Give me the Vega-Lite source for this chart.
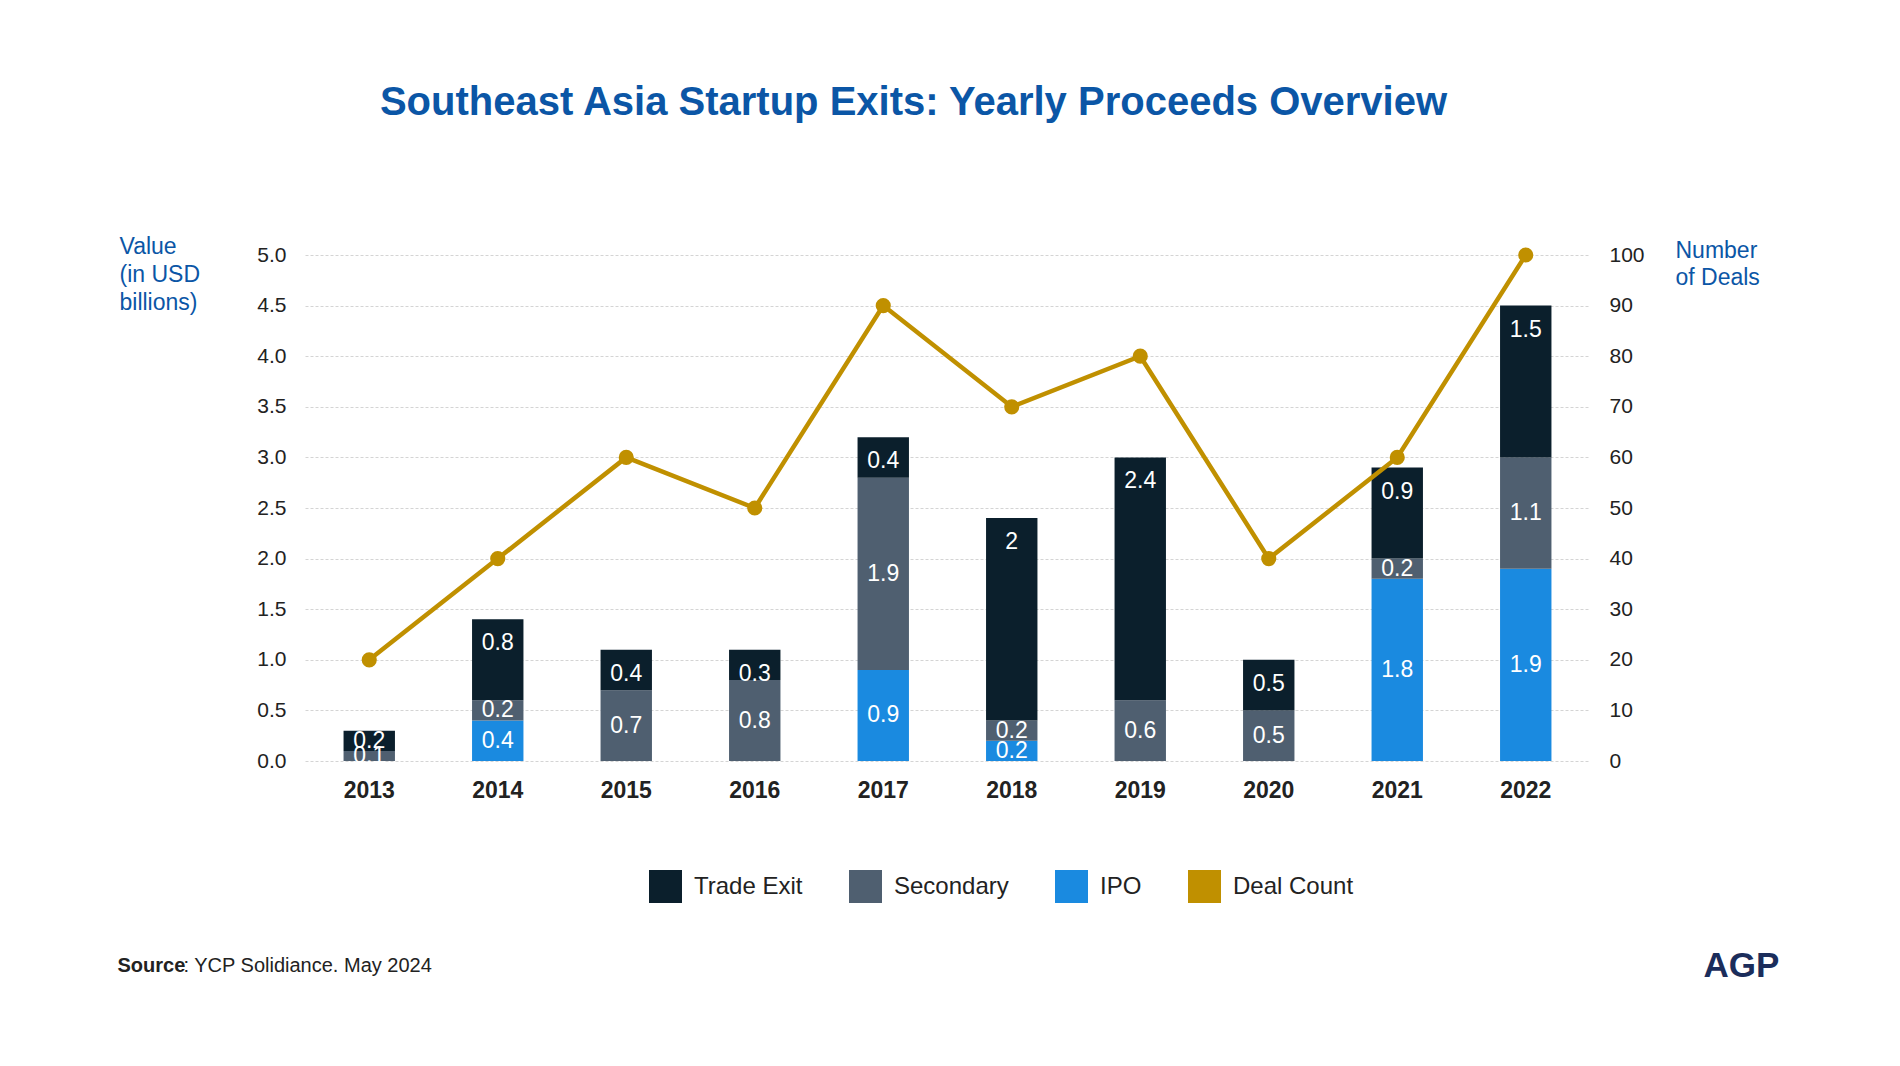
{
  "$schema": "https://vega.github.io/schema/vega-lite/v6.json",
  "autosize": {"type": "none"},
  "width": 1285,
  "height": 506,
  "padding": {"left": 305, "top": 255, "right": 310, "bottom": 305},
  "background": "white",
  "title": {
    "text": "Southeast Asia Startup Exits: Yearly Proceeds Overview",
    "anchor": "middle",
    "frame": "group",
    "dx": -34,
    "offset": 80,
    "baseline": "alphabetic",
    "font": "Liberation Sans",
    "fontSize": 40,
    "fontWeight": "bold",
    "color": "#0b56a6"
  },
  "datasets": {
    "exits": [
      {"year": "2013", "type": "Secondary", "value": 0.1},
      {"year": "2013", "type": "Trade Exit", "value": 0.2},
      {"year": "2014", "type": "IPO", "value": 0.4},
      {"year": "2014", "type": "Secondary", "value": 0.2},
      {"year": "2014", "type": "Trade Exit", "value": 0.8},
      {"year": "2015", "type": "Secondary", "value": 0.7},
      {"year": "2015", "type": "Trade Exit", "value": 0.4},
      {"year": "2016", "type": "Secondary", "value": 0.8},
      {"year": "2016", "type": "Trade Exit", "value": 0.3},
      {"year": "2017", "type": "IPO", "value": 0.9},
      {"year": "2017", "type": "Secondary", "value": 1.9},
      {"year": "2017", "type": "Trade Exit", "value": 0.4},
      {"year": "2018", "type": "IPO", "value": 0.2},
      {"year": "2018", "type": "Secondary", "value": 0.2},
      {"year": "2018", "type": "Trade Exit", "value": 2},
      {"year": "2019", "type": "Secondary", "value": 0.6},
      {"year": "2019", "type": "Trade Exit", "value": 2.4},
      {"year": "2020", "type": "Secondary", "value": 0.5},
      {"year": "2020", "type": "Trade Exit", "value": 0.5},
      {"year": "2021", "type": "IPO", "value": 1.8},
      {"year": "2021", "type": "Secondary", "value": 0.2},
      {"year": "2021", "type": "Trade Exit", "value": 0.9},
      {"year": "2022", "type": "IPO", "value": 1.9},
      {"year": "2022", "type": "Secondary", "value": 1.1},
      {"year": "2022", "type": "Trade Exit", "value": 1.5}
    ],
    "deals": [
      {"year": "2013", "count": 20},
      {"year": "2014", "count": 40},
      {"year": "2015", "count": 60},
      {"year": "2016", "count": 50},
      {"year": "2017", "count": 90},
      {"year": "2018", "count": 70},
      {"year": "2019", "count": 80},
      {"year": "2020", "count": 40},
      {"year": "2021", "count": 60},
      {"year": "2022", "count": 100}
    ]
  },
  "encoding": {
    "x": {
      "field": "year",
      "type": "ordinal",
      "scale": {"paddingInner": 0.6, "paddingOuter": 0.3},
      "axis": {
        "title": "Source",
        "titleFont": "Liberation Sans",
        "titleFontSize": 20,
        "titleFontWeight": "bold",
        "titleColor": "#222222",
        "titleAnchor": "start",
        "titleAlign": "left",
        "titleBaseline": "middle",
        "titleX": -188,
        "titleY": 204,
        "labelAngle": 0,
        "labelFont": "Liberation Sans",
        "labelFontSize": 23,
        "labelFontWeight": "bold",
        "labelColor": "#222222",
        "labelPadding": 18,
        "ticks": false,
        "domain": false,
        "grid": false
      }
    }
  },
  "layer": [
    {
      "data": {"name": "exits"},
      "transform": [
        {"stack": "value", "groupby": ["year"], "as": ["v0", "v1"], "sort": [{"field": "type", "order": "ascending"}]}
      ],
      "mark": {"type": "bar"},
      "encoding": {
        "y": {
          "field": "v0",
          "type": "quantitative",
          "scale": {"domain": [0, 5]},
          "axis": {
            "orient": "left",
            "values": [0, 0.5, 1, 1.5, 2, 2.5, 3, 3.5, 4, 4.5, 5],
            "format": ".1f",
            "title": ["Value", "(in USD", "billions)"],
            "titleAngle": 0,
            "titleAlign": "left",
            "titleBaseline": "alphabetic",
            "titleX": -186,
            "titleY": -2,
            "titleLineHeight": 28,
            "titleFont": "Liberation Sans",
            "titleFontSize": 23,
            "titleFontWeight": "normal",
            "titleColor": "#0b56a6",
            "labelFont": "Liberation Sans",
            "labelFontSize": 21,
            "labelColor": "#222222",
            "labelPadding": 19,
            "ticks": false,
            "domain": false,
            "grid": true,
            "gridColor": "#d4d4d4",
            "gridDash": [3, 2],
            "gridWidth": 1
          }
        },
        "y2": {"field": "v1"},
        "color": {
          "field": "type",
          "type": "nominal",
          "scale": {
            "domain": ["Trade Exit", "Secondary", "IPO", "Deal Count"],
            "range": ["#0b1f2c", "#4f5f70", "#1a8ae0", "#c09000"]
          },
          "legend": {
            "title": null,
            "orient": "none",
            "legendX": 344,
            "legendY": 615,
            "direction": "horizontal",
            "symbolType": "square",
            "symbolSize": 1089,
            "symbolStrokeWidth": 0,
            "symbolOpacity": 1,
            "labelFont": "Liberation Sans",
            "labelFontSize": 24,
            "labelColor": "#222222",
            "labelOffset": 12,
            "columnPadding": 46
          }
        }
      }
    },
    {
      "data": {"name": "exits"},
      "transform": [
        {"stack": "value", "groupby": ["year"], "as": ["v0", "v1"], "sort": [{"field": "type", "order": "ascending"}]},
        {"filter": "datum.type !== 'Trade Exit' || datum.value < 0.25"},
        {"calculate": "(datum.v0 + datum.v1) / 2", "as": "mid"}
      ],
      "mark": {"type": "text", "font": "Liberation Sans", "fontSize": 23, "color": "white", "baseline": "middle", "align": "center"},
      "encoding": {
        "y": {
          "field": "mid",
          "type": "quantitative",
          "scale": {"domain": [0, 5]},
          "axis": {
            "orient": "left",
            "labels": false,
            "ticks": false,
            "domain": false,
            "grid": false,
            "title": ": YCP Solidiance. May 2024",
            "titleAngle": 0,
            "titleAlign": "left",
            "titleBaseline": "middle",
            "titleX": -122,
            "titleY": 710,
            "titleFont": "Liberation Sans",
            "titleFontSize": 20,
            "titleFontWeight": "normal",
            "titleColor": "#222222"
          }
        },
        "text": {"field": "value", "type": "quantitative"}
      }
    },
    {
      "data": {"name": "exits"},
      "transform": [
        {"stack": "value", "groupby": ["year"], "as": ["v0", "v1"], "sort": [{"field": "type", "order": "ascending"}]},
        {"filter": "datum.type === 'Trade Exit' && datum.value >= 0.25"}
      ],
      "mark": {"type": "text", "font": "Liberation Sans", "fontSize": 23, "color": "white", "baseline": "middle", "align": "center", "dy": 24},
      "encoding": {
        "y": {
          "field": "v1",
          "type": "quantitative",
          "scale": {"domain": [0, 5]},
          "axis": null
        },
        "text": {"field": "value", "type": "quantitative"}
      }
    },
    {
      "data": {"name": "deals"},
      "mark": {"type": "line", "strokeWidth": 4.5},
      "encoding": {
        "y": {
          "field": "count",
          "type": "quantitative",
          "scale": {"domain": [0, 100]},
          "axis": {
            "orient": "right",
            "values": [0, 10, 20, 30, 40, 50, 60, 70, 80, 90, 100],
            "title": ["Number", "of Deals"],
            "titleAngle": 0,
            "titleAlign": "left",
            "titleBaseline": "alphabetic",
            "titleX": 85,
            "titleY": 2,
            "titleLineHeight": 27,
            "titleFont": "Liberation Sans",
            "titleFontSize": 23,
            "titleFontWeight": "normal",
            "titleColor": "#0b56a6",
            "labelFont": "Liberation Sans",
            "labelFontSize": 21,
            "labelColor": "#222222",
            "labelPadding": 19,
            "ticks": false,
            "domain": false,
            "grid": false
          }
        },
        "color": {"datum": "Deal Count", "legend": null}
      }
    },
    {
      "data": {"name": "deals"},
      "mark": {"type": "circle", "size": 230, "opacity": 1},
      "encoding": {
        "y": {
          "field": "count",
          "type": "quantitative",
          "scale": {"domain": [0, 100]},
          "axis": {
            "orient": "right",
            "labels": false,
            "ticks": false,
            "domain": false,
            "grid": false,
            "title": "AGP",
            "titleAngle": 0,
            "titleAlign": "left",
            "titleBaseline": "middle",
            "titleX": 113,
            "titleY": 710,
            "titleFont": "Liberation Sans",
            "titleFontSize": 35,
            "titleFontWeight": "bold",
            "titleColor": "#1b2d5b"
          }
        },
        "color": {"datum": "Deal Count", "legend": null}
      }
    }
  ],
  "resolve": {"scale": {"y": "independent"}},
  "config": {
    "view": {"stroke": null},
    "font": "Liberation Sans"
  }
}
